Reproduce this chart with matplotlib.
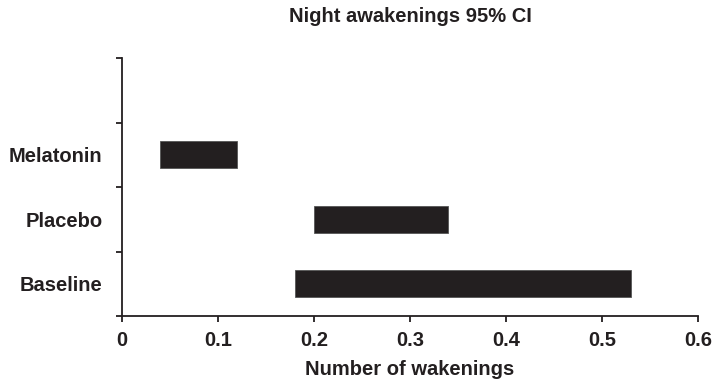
import matplotlib
matplotlib.use("Agg")
import matplotlib.pyplot as plt
from matplotlib.ticker import FixedLocator, NullFormatter, FixedFormatter

categories = ["Baseline", "Placebo", "Melatonin"]
ci_low = [0.18, 0.20, 0.04]
ci_high = [0.53, 0.34, 0.12]
x_ticks = [0, 0.1, 0.2, 0.3, 0.4, 0.5, 0.6]
x_tick_labels = ["0", "0.1", "0.2", "0.3", "0.4", "0.5", "0.6"]

plt.rcParams['font.family'] = ['Liberation Sans', 'DejaVu Sans']
plt.rcParams['font.weight'] = 'bold'

FS = 14.5
fig = plt.figure(figsize=(7.14, 3.84), dpi=100)
ax = fig.add_axes([122/714, 1-316/384, (698-122)/714, (316-58)/384])

ypos = [i + 0.5 for i in range(len(categories))]
widths = [h - l for l, h in zip(ci_low, ci_high)]
ax.barh(ypos, widths, left=ci_low, height=0.42, color="#231f20",
        edgecolor="#555555", linewidth=0.6)

ax.set_xlim(0, 0.6)
ax.set_ylim(0, 4)
ax.set_xticks(x_ticks)
ax.set_xticklabels(x_tick_labels, fontsize=FS, fontweight='bold', color="#231f20")
ax.yaxis.set_major_locator(FixedLocator([0, 1, 2, 3, 4]))
ax.yaxis.set_major_formatter(NullFormatter())
ax.yaxis.set_minor_locator(FixedLocator(ypos))
ax.yaxis.set_minor_formatter(FixedFormatter(categories))
ax.tick_params(axis='y', which='minor', length=0, pad=14, labelsize=FS, labelcolor="#231f20")
ax.tick_params(axis='y', which='major', length=4, width=1.3, color="#231f20")
ax.tick_params(axis='x', which='major', length=4, width=1.3, color="#231f20", pad=7)
for lbl in ax.get_yminorticklabels():
    lbl.set_fontweight('bold')

for s in ['top', 'right']:
    ax.spines[s].set_visible(False)
for s in ['left', 'bottom']:
    ax.spines[s].set_linewidth(1.3)
    ax.spines[s].set_color("#231f20")

ax.set_title("Night awakenings 95% CI", fontsize=FS, fontweight='bold', pad=26, color="#231f20")
ax.set_xlabel("Number of wakenings", fontsize=FS, fontweight='bold', labelpad=7, color="#231f20")

fig.savefig("out.png", dpi=100)
